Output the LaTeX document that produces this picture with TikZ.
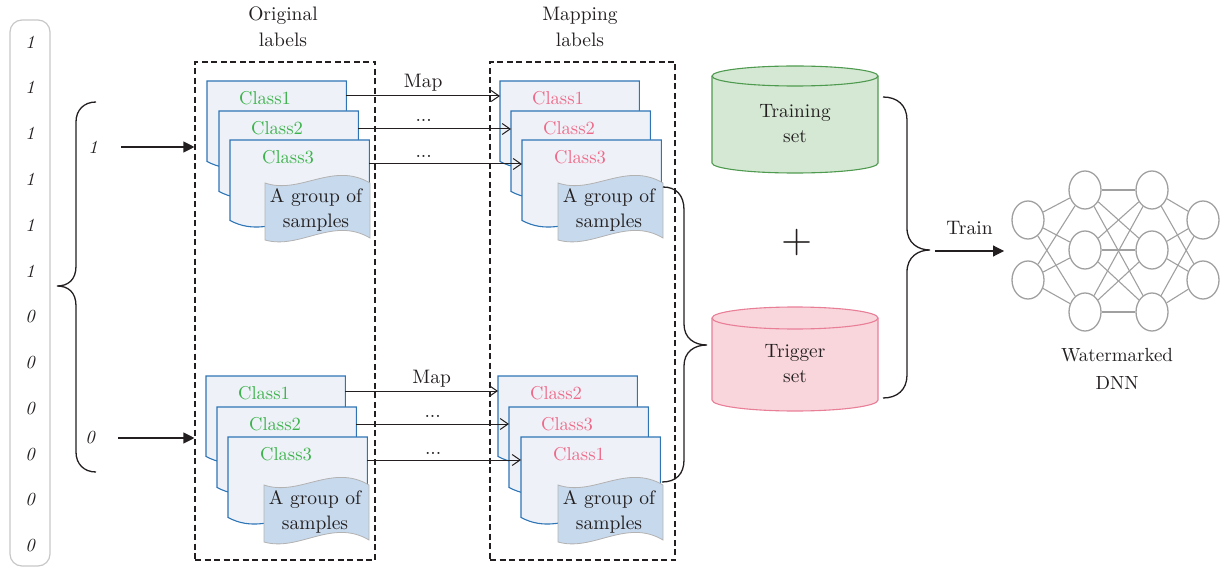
\documentclass[tikz,border=0pt]{standalone}
\usepackage{fontspec}
\setmainfont{lmroman10-regular.otf}[ItalicFont=lmroman10-italic.otf, BoldFont=lmroman10-bold.otf]
\usetikzlibrary{arrows.meta,shapes.geometric,calc}
\definecolor{docblue}{HTML}{2E75B6}
\definecolor{docfill}{HTML}{EEF2F8}
\definecolor{sampfill}{HTML}{C7D9EC}
\definecolor{clsgreen}{HTML}{3DB34C}
\definecolor{clspink}{HTML}{EE6A8A}
\definecolor{trfill}{HTML}{D5E8D4}
\definecolor{trdraw}{HTML}{4E9A4E}
\definecolor{tgfill}{HTML}{F9D6DC}
\definecolor{tgdraw}{HTML}{E97E97}
\definecolor{nngray}{HTML}{A0A0A0}
\definecolor{txt}{HTML}{231F20}

\newcommand\mydoc[5]{% name, x, y, label, colour
  \node[docnode] (#1) at (#2,#3) {};
  \path[docshape] (#1.north west) -- (#1.north east) -- ($(#1.south east)+(0,-12)$)
    .. controls ($(#1.south east)+(-45,-30)$) and ($(#1.south west)+(45,25)$) .. (#1.south west) -- cycle;
  \node[cls, text=#5] (#1l) at ($(#1.north west)+(58,17.5)$) {#4};
}
\newcommand\mysample[3]{% name, x, y
  \coordinate (#1) at (#2,#3);
  \path[sampshape] ($(#1)+(0,10)$) .. controls ($(#1)+(35,22)$) and ($(#1)+(68,-12)$) .. ($(#1)+(105,10)$)
    -- ($(#1)+(105,65)$) .. controls ($(#1)+(68,43)$) and ($(#1)+(35,77)$) .. ($(#1)+(0,67)$) -- cycle;
  \node[samptext] (#1t) at ($(#1)+(51,37)$) {A group of\\samples};
}

\begin{document}
\begin{tikzpicture}[x=1pt,y=-1pt,
  every node/.style={text=txt},
  docnode/.style={anchor=north west, minimum width=139pt, minimum height=80pt, inner sep=0pt, draw=none},
  docshape/.style={draw=docblue, fill=docfill, line width=1.1pt},
  sampshape/.style={draw=black!30, fill=sampfill, line width=0.8pt},
  samptext/.style={align=center, font=\fontsize{19.5}{24.5}\selectfont, inner sep=0pt},
  cls/.style={font=\fontsize{18.6}{22}\selectfont, inner sep=0pt},
  dashbox/.style={draw=txt, dash pattern=on 6pt off 3.5pt, line width=1.1pt, inner sep=0pt},
  maparrow/.style={draw=txt, line width=1pt, -{Straight Barb[length=8pt,width=11pt,line width=1pt]}},
  solidarrow/.style={draw=txt, line width=1.1pt, -{Triangle[length=11pt,width=11pt]}},
  bracepath/.style={draw=txt, line width=1.3pt},
  nn/.style={ellipse, draw=nngray, line width=1.3pt, minimum width=32pt, minimum height=38pt, inner sep=0pt},
  nnedge/.style={draw=nngray, line width=1.1pt},
  digit/.style={font=\fontsize{18.5}{20}\selectfont\itshape},
  lbl/.style={align=center, font=\fontsize{19.5}{26}\selectfont, inner sep=0pt},
  big/.style={align=center, font=\fontsize{19.3}{25}\selectfont, inner sep=0pt},
  arrlbl/.style={font=\fontsize{19.5}{20}\selectfont, inner sep=0pt, anchor=base}
]
\useasboundingbox (0,0) rectangle (1225,569);

% left column
\node[draw=black!22, line width=1.2pt, rounded corners=12pt, minimum width=40pt, minimum height=546pt] (colbox) at (30,293) {};
\foreach \i in {0,...,5} {\node[digit] (dg\i) at (30,{42+45.8*\i}) {1};}
\foreach \i in {6,...,11} {\node[digit] (dg\i) at (30,{42+45.8*\i}) {0};}

% left brace
\coordinate (lbt) at (96,102);
\coordinate (lbtip) at (57,286);
\coordinate (lbb) at (96,472);
\path[bracepath] (lbt) .. controls (84,102) and (76,110) .. (76,122) -- (76,266)
  .. controls (76,280) and (68,286) .. (lbtip) .. controls (68,286) and (76,292) .. (76,306)
  -- (76,452) .. controls (76,464) and (84,472) .. (lbb);

\node[digit] (one) at (93,147) {1};
\node[digit] (zero) at (90,438) {0};

% dashed boxes
\node[dashbox, minimum width=180pt, minimum height=498pt] (box1) at (285,311) {};
\node[dashbox, minimum width=185pt, minimum height=498pt] (box2) at (582.5,311) {};
\node[lbl] (h1) at (283,27) {Original\\labels};
\node[lbl] (h2) at (580,27) {Mapping\\labels};

\draw[solidarrow] ([xshift=20pt]one.east) -- (box1.west |- one);
\draw[solidarrow] ([xshift=20pt]zero.east) -- (box1.west |- zero);

% documents
\mydoc{a1}{207}{81}{Class1}{clsgreen}
\mydoc{a2}{219}{111}{Class2}{clsgreen}
\mydoc{a3}{230}{140}{Class3}{clsgreen}
\mysample{sa}{265}{173}

\mydoc{b1}{500}{81}{Class1}{clspink}
\mydoc{b2}{511}{111}{Class2}{clspink}
\mydoc{b3}{522}{140}{Class3}{clspink}
\mysample{sb}{558}{173}

\mydoc{c1}{206}{376}{Class1}{clsgreen}
\mydoc{c2}{217}{407}{Class2}{clsgreen}
\mydoc{c3}{228}{437}{Class3}{clsgreen}
\mysample{sc}{264}{475}

\mydoc{d1}{498}{376}{Class2}{clspink}
\mydoc{d2}{509}{407}{Class3}{clspink}
\mydoc{d3}{521}{437}{Class1}{clspink}
\mysample{sd}{558}{475}

% mapping arrows
\draw[maparrow] ([yshift=-15pt]a1.north east) -- node[arrlbl, midway, yshift=8pt] {Map} ([yshift=-15pt]b1.north west);
\draw[maparrow] ([yshift=-18pt]a2.north east) -- node[arrlbl, midway, xshift=-11pt, yshift=7pt] {...} ([yshift=-18pt]b2.north west);
\draw[maparrow] ([yshift=-24pt]a3.north east) -- node[arrlbl, midway, xshift=-22pt, yshift=6pt] {...} ([yshift=-24pt]b3.north west);
\draw[maparrow] ([yshift=-15pt]c1.north east) -- node[arrlbl, midway, xshift=10pt, yshift=8pt] {Map} ([yshift=-15pt]d1.north west);
\draw[maparrow] ([yshift=-17pt]c2.north east) -- node[arrlbl, midway, yshift=7pt] {...} ([yshift=-17pt]d2.north west);
\draw[maparrow] ([yshift=-23pt]c3.north east) -- node[arrlbl, midway, xshift=-11pt, yshift=6pt] {...} ([yshift=-23pt]d3.north west);

% brace from trigger samples
\coordinate (sbr) at ($(sb)+(105,14)$);
\coordinate (sdr) at ($(sd)+(104,7)$);
\coordinate (sbtip) at (707,345);
\path[bracepath] (sbr) .. controls (676,187) and (684,195) .. (684,210) -- (684,324)
  .. controls (684,338) and (694,345) .. (sbtip) .. controls (694,345) and (684,352) .. (684,366)
  -- (684,460) .. controls (684,474) and (676,482) .. (sdr);

% cylinders
\path[fill=trfill, draw=trdraw, line width=1.1pt] (712,76) -- (712,163)
  arc[start angle=180,end angle=360,x radius=83pt,y radius=10pt] -- (878,76)
  arc[start angle=0,end angle=180,x radius=83pt,y radius=10pt] -- cycle;
\draw[trdraw, line width=1.1pt] (712,76) arc[start angle=180,end angle=360,x radius=83pt,y radius=10pt];
\node[big] (train) at (795,124) {Training\\set};

\path[fill=tgfill, draw=tgdraw, line width=1.1pt] (712,318) -- (712,400)
  arc[start angle=180,end angle=360,x radius=83pt,y radius=11pt] -- (878,318)
  arc[start angle=0,end angle=180,x radius=83pt,y radius=11pt] -- cycle;
\draw[tgdraw, line width=1.1pt] (712,318) arc[start angle=180,end angle=360,x radius=83pt,y radius=11pt];
\node[big] (trig) at (795,364) {Trigger\\set};

\node[font=\fontsize{40}{40}\selectfont, inner sep=0pt] (plus) at (797,243) {+};

% right brace
\coordinate (rbt) at (883,97);
\coordinate (rbtip) at (930,250);
\coordinate (rbb) at (883,398);
\path[bracepath] (rbt) .. controls (897,97) and (907,105) .. (907,120) -- (907,228)
  .. controls (907,243) and (918,250) .. (rbtip) .. controls (918,250) and (907,257) .. (907,272)
  -- (907,375) .. controls (907,390) and (897,398) .. (rbb);

\coordinate (trainend) at (1004,251);
\draw[solidarrow] ([xshift=5pt,yshift=-1pt]rbtip) -- node[arrlbl, midway, yshift=16pt] {Train} (trainend);

% neural network
\node[nn] (n11) at (1028,220) {};
\node[nn] (n12) at (1028,280) {};
\node[nn] (n21) at (1085,190) {};
\node[nn] (n22) at (1085,250) {};
\node[nn] (n23) at (1085,312) {};
\node[nn] (n31) at (1152,190) {};
\node[nn] (n32) at (1152,250) {};
\node[nn] (n33) at (1152,312) {};
\node[nn] (n41) at (1203,220) {};
\node[nn] (n42) at (1203,280) {};
\foreach \a in {1,2} \foreach \b in {1,2,3} {\path[nnedge] (n1\a) -- (n2\b);}
\foreach \a in {1,2,3} \foreach \b in {1,2,3} {\path[nnedge] (n2\a) -- (n3\b);}
\foreach \a in {1,2,3} \foreach \b in {1,2} {\path[nnedge] (n3\a) -- (n4\b);}
\node[big, font=\fontsize{19}{28}\selectfont] (wdnn) at (1117,369) {Watermarked\\DNN};
\end{tikzpicture}
\end{document}
